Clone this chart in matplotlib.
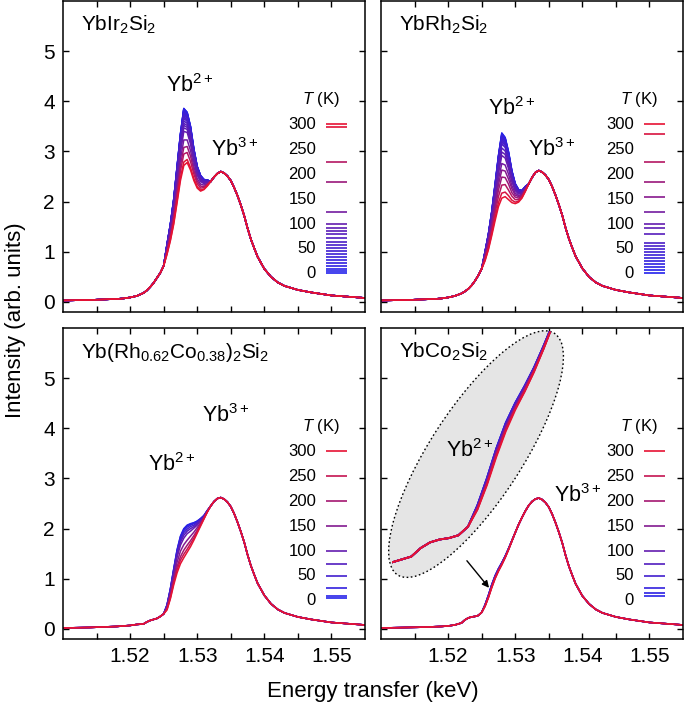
import numpy as np
import matplotlib
matplotlib.use("Agg")
import matplotlib.pyplot as plt
from matplotlib.patches import Ellipse
import matplotlib.transforms as mtransforms

plt.rcParams['font.family'] = ['Liberation Sans', 'DejaVu Sans']
plt.rcParams['mathtext.fontset'] = 'custom'
plt.rcParams['mathtext.rm'] = 'Liberation Sans'
plt.rcParams['mathtext.it'] = 'Liberation Sans:italic'
plt.rcParams['mathtext.bf'] = 'Liberation Sans:bold'

# ---------------- data ----------------
energy = [1.510, 1.512, 1.514, 1.516, 1.518, 1.519, 1.520, 1.521,
          1.522, 1.5225, 1.523, 1.5235, 1.524, 1.5245, 1.525, 1.5255, 1.526, 1.5265,
          1.527, 1.5275, 1.528, 1.5285, 1.529, 1.5295, 1.530, 1.5305, 1.531, 1.5315,
          1.532, 1.5325, 1.533, 1.5335,
          1.534, 1.5345, 1.535, 1.5355, 1.536, 1.5365, 1.537, 1.5375, 1.538, 1.5385,
          1.539, 1.540, 1.541, 1.542, 1.543, 1.545, 1.547, 1.550, 1.553, 1.555]

# energies where the spectra change with temperature (Yb2+ region)
window_energy = [1.5255, 1.526, 1.5265, 1.527, 1.5275, 1.528, 1.5285,
                 1.529, 1.5295, 1.530, 1.5305, 1.531, 1.5315]

# ---- YbIr2Si2 ----
ir_base = [0.03, 0.035, 0.04, 0.05, 0.06, 0.07, 0.09, 0.12,
           0.18, 0.23, 0.30, 0.38, 0.48, 0.58, 0.72, 0.95, 1.22, 1.55, 1.98, 2.42,
           2.72, 2.78, 2.63, 2.42, 2.27, 2.21, 2.24, 2.31, 2.40, 2.49, 2.56, 2.60,
           2.57, 2.51, 2.42, 2.28, 2.12, 1.93, 1.72, 1.47, 1.25, 1.07,
           0.90, 0.66, 0.50, 0.39, 0.32, 0.24, 0.19, 0.13, 0.10, 0.08]
ir_temps = [300, 295, 225, 185, 125, 100, 92, 86, 80, 72, 64, 58, 52, 46, 40,
            34, 28, 22, 16, 10, 6, 2]
ir_window = [
    [0.95, 1.22, 1.55, 1.98, 2.42, 2.72, 2.78, 2.63, 2.42, 2.27, 2.21, 2.24, 2.31],
    [0.96, 1.24, 1.58, 2.02, 2.48, 2.79, 2.84, 2.68, 2.46, 2.30, 2.23, 2.25, 2.32],
    [0.99, 1.29, 1.65, 2.12, 2.61, 2.95, 2.98, 2.80, 2.55, 2.36, 2.27, 2.28, 2.33],
    [1.01, 1.33, 1.71, 2.21, 2.72, 3.08, 3.10, 2.91, 2.62, 2.41, 2.31, 2.30, 2.35],
    [1.04, 1.37, 1.78, 2.30, 2.84, 3.23, 3.23, 3.02, 2.70, 2.46, 2.35, 2.33, 2.36],
    [1.07, 1.42, 1.85, 2.41, 2.98, 3.40, 3.38, 3.15, 2.80, 2.53, 2.40, 2.36, 2.38],
    [1.08, 1.44, 1.88, 2.46, 3.03, 3.47, 3.44, 3.20, 2.84, 2.55, 2.42, 2.37, 2.39],
    [1.09, 1.45, 1.90, 2.48, 3.07, 3.52, 3.48, 3.24, 2.86, 2.57, 2.43, 2.38, 2.39],
    [1.10, 1.46, 1.92, 2.51, 3.11, 3.56, 3.52, 3.27, 2.89, 2.59, 2.44, 2.39, 2.40],
    [1.11, 1.48, 1.94, 2.54, 3.15, 3.61, 3.56, 3.31, 2.91, 2.61, 2.45, 2.40, 2.40],
    [1.11, 1.49, 1.96, 2.57, 3.18, 3.66, 3.60, 3.34, 2.94, 2.62, 2.46, 2.40, 2.41],
    [1.12, 1.50, 1.98, 2.59, 3.21, 3.69, 3.63, 3.37, 2.96, 2.64, 2.47, 2.41, 2.41],
    [1.13, 1.51, 1.99, 2.61, 3.24, 3.72, 3.66, 3.40, 2.97, 2.65, 2.48, 2.42, 2.42],
    [1.13, 1.52, 2.00, 2.63, 3.26, 3.75, 3.68, 3.41, 2.99, 2.66, 2.49, 2.42, 2.42],
    [1.13, 1.52, 2.01, 2.64, 3.28, 3.77, 3.70, 3.43, 3.00, 2.67, 2.50, 2.42, 2.42],
    [1.14, 1.53, 2.02, 2.66, 3.29, 3.79, 3.72, 3.45, 3.01, 2.67, 2.50, 2.43, 2.42],
    [1.14, 1.54, 2.03, 2.67, 3.31, 3.81, 3.74, 3.46, 3.02, 2.68, 2.51, 2.43, 2.43],
    [1.14, 1.54, 2.04, 2.68, 3.32, 3.83, 3.75, 3.47, 3.03, 2.69, 2.51, 2.43, 2.43],
    [1.15, 1.54, 2.04, 2.69, 3.33, 3.84, 3.76, 3.48, 3.04, 2.69, 2.51, 2.44, 2.43],
    [1.15, 1.55, 2.05, 2.69, 3.34, 3.85, 3.77, 3.49, 3.04, 2.70, 2.52, 2.44, 2.43],
    [1.15, 1.55, 2.05, 2.70, 3.35, 3.85, 3.78, 3.50, 3.05, 2.70, 2.52, 2.44, 2.43],
    [1.15, 1.55, 2.05, 2.70, 3.35, 3.86, 3.78, 3.50, 3.05, 2.70, 2.52, 2.44, 2.43],
]

# ---- YbRh2Si2 ----
rh_base = [0.03, 0.035, 0.04, 0.05, 0.06, 0.07, 0.09, 0.12,
           0.17, 0.21, 0.26, 0.33, 0.42, 0.53, 0.66, 0.82, 1.04, 1.32, 1.62, 1.90,
           2.07, 2.10, 2.04, 1.98, 1.96, 1.99, 2.07, 2.20, 2.35, 2.48, 2.58, 2.62,
           2.59, 2.53, 2.44, 2.30, 2.13, 1.94, 1.73, 1.48, 1.26, 1.08,
           0.91, 0.67, 0.50, 0.39, 0.32, 0.24, 0.19, 0.13, 0.10, 0.08]
rh_temps = [300, 280, 225, 185, 155, 125, 100, 92, 80, 62, 56, 50, 44, 38, 32,
            26, 20, 14, 8, 2]
rh_window = [
    [0.82, 1.04, 1.32, 1.62, 1.90, 2.07, 2.10, 2.04, 1.98, 1.96, 1.99, 2.07, 2.20],
    [0.83, 1.06, 1.36, 1.68, 1.98, 2.17, 2.19, 2.12, 2.03, 1.99, 2.01, 2.08, 2.21],
    [0.86, 1.10, 1.42, 1.77, 2.10, 2.33, 2.34, 2.23, 2.11, 2.04, 2.04, 2.10, 2.22],
    [0.88, 1.14, 1.47, 1.85, 2.23, 2.49, 2.48, 2.35, 2.18, 2.09, 2.07, 2.12, 2.23],
    [0.90, 1.17, 1.53, 1.93, 2.34, 2.63, 2.61, 2.45, 2.26, 2.13, 2.10, 2.13, 2.24],
    [0.92, 1.20, 1.57, 2.01, 2.44, 2.76, 2.73, 2.55, 2.32, 2.17, 2.12, 2.15, 2.25],
    [0.94, 1.24, 1.63, 2.09, 2.56, 2.92, 2.87, 2.66, 2.40, 2.22, 2.15, 2.17, 2.27],
    [0.95, 1.26, 1.66, 2.14, 2.62, 2.99, 2.94, 2.72, 2.43, 2.24, 2.17, 2.18, 2.27],
    [0.96, 1.28, 1.69, 2.18, 2.69, 3.07, 3.01, 2.78, 2.47, 2.27, 2.18, 2.19, 2.28],
    [0.97, 1.30, 1.72, 2.23, 2.75, 3.15, 3.08, 2.84, 2.51, 2.29, 2.20, 2.20, 2.28],
    [0.98, 1.31, 1.73, 2.25, 2.78, 3.19, 3.12, 2.87, 2.53, 2.30, 2.21, 2.20, 2.29],
    [0.98, 1.32, 1.75, 2.27, 2.81, 3.23, 3.15, 2.89, 2.55, 2.32, 2.21, 2.20, 2.29],
    [0.98, 1.32, 1.76, 2.28, 2.83, 3.25, 3.17, 2.91, 2.56, 2.32, 2.22, 2.21, 2.29],
    [0.99, 1.33, 1.77, 2.30, 2.85, 3.28, 3.20, 2.93, 2.58, 2.33, 2.22, 2.21, 2.29],
    [0.99, 1.34, 1.78, 2.31, 2.87, 3.31, 3.22, 2.95, 2.59, 2.34, 2.23, 2.21, 2.30],
    [0.99, 1.34, 1.78, 2.32, 2.88, 3.32, 3.23, 2.96, 2.59, 2.34, 2.23, 2.21, 2.30],
    [1.00, 1.34, 1.79, 2.33, 2.89, 3.33, 3.25, 2.97, 2.60, 2.35, 2.23, 2.22, 2.30],
    [1.00, 1.34, 1.79, 2.34, 2.90, 3.34, 3.26, 2.98, 2.61, 2.35, 2.24, 2.22, 2.30],
    [1.00, 1.35, 1.80, 2.34, 2.91, 3.36, 3.27, 2.99, 2.61, 2.36, 2.24, 2.22, 2.30],
    [1.00, 1.35, 1.80, 2.35, 2.92, 3.37, 3.28, 3.00, 2.62, 2.36, 2.24, 2.22, 2.30],
]

# ---- Yb(Rh0.62Co0.38)2Si2 ----
rhco_base = [0.02, 0.025, 0.03, 0.04, 0.05, 0.06, 0.07, 0.09,
             0.10, 0.14, 0.17, 0.19, 0.21, 0.25, 0.30, 0.38, 0.60, 0.88, 1.12, 1.30,
             1.42, 1.53, 1.64, 1.77, 1.91, 2.05, 2.19, 2.33, 2.45, 2.54, 2.60, 2.62,
             2.59, 2.53, 2.44, 2.30, 2.13, 1.94, 1.73, 1.48, 1.26, 1.08,
             0.91, 0.67, 0.50, 0.39, 0.32, 0.24, 0.19, 0.13, 0.10, 0.08]
rhco_temps = [300, 250, 200, 150, 100, 75, 50, 25, 10, 5]
rhco_window = [
    [0.38, 0.60, 0.88, 1.12, 1.30, 1.42, 1.53, 1.64, 1.77, 1.91, 2.05, 2.19, 2.33],
    [0.39, 0.62, 0.92, 1.18, 1.37, 1.49, 1.59, 1.70, 1.81, 1.94, 2.07, 2.20, 2.33],
    [0.41, 0.65, 0.96, 1.24, 1.44, 1.57, 1.67, 1.76, 1.86, 1.97, 2.09, 2.21, 2.34],
    [0.43, 0.69, 1.02, 1.33, 1.55, 1.68, 1.77, 1.85, 1.93, 2.02, 2.12, 2.22, 2.34],
    [0.45, 0.74, 1.10, 1.43, 1.67, 1.81, 1.90, 1.95, 2.01, 2.07, 2.15, 2.24, 2.35],
    [0.46, 0.76, 1.13, 1.48, 1.73, 1.87, 1.95, 2.00, 2.04, 2.10, 2.17, 2.24, 2.35],
    [0.47, 0.77, 1.16, 1.52, 1.77, 1.92, 1.99, 2.04, 2.07, 2.12, 2.18, 2.25, 2.36],
    [0.47, 0.79, 1.18, 1.55, 1.81, 1.96, 2.03, 2.07, 2.10, 2.13, 2.19, 2.26, 2.36],
    [0.48, 0.80, 1.19, 1.57, 1.84, 1.99, 2.06, 2.09, 2.11, 2.15, 2.20, 2.26, 2.36],
    [0.48, 0.80, 1.20, 1.58, 1.85, 2.00, 2.07, 2.10, 2.12, 2.15, 2.20, 2.26, 2.36],
]

# ---- YbCo2Si2 ----
co_base = [0.02, 0.025, 0.03, 0.035, 0.045, 0.05, 0.06, 0.08,
           0.12, 0.18, 0.22, 0.24, 0.25, 0.27, 0.33, 0.45, 0.62, 0.82, 1.00, 1.15,
           1.28, 1.42, 1.58, 1.75, 1.92, 2.08, 2.22, 2.35, 2.46, 2.54, 2.59, 2.61,
           2.58, 2.52, 2.43, 2.29, 2.12, 1.93, 1.72, 1.47, 1.25, 1.07,
           0.90, 0.66, 0.50, 0.39, 0.32, 0.24, 0.19, 0.13, 0.10, 0.08]
co_temps = [300, 250, 200, 150, 100, 75, 50, 25, 15, 10]
co_window = [
    [0.45, 0.62, 0.82, 1.00, 1.15, 1.28, 1.42, 1.58, 1.75, 1.92, 2.08, 2.22, 2.35],
    [0.45, 0.63, 0.83, 1.01, 1.16, 1.28, 1.42, 1.58, 1.75, 1.92, 2.08, 2.22, 2.35],
    [0.46, 0.63, 0.84, 1.02, 1.16, 1.29, 1.43, 1.58, 1.75, 1.92, 2.08, 2.22, 2.35],
    [0.46, 0.64, 0.85, 1.03, 1.17, 1.30, 1.43, 1.59, 1.75, 1.92, 2.08, 2.22, 2.35],
    [0.47, 0.65, 0.86, 1.04, 1.18, 1.31, 1.44, 1.59, 1.76, 1.92, 2.08, 2.22, 2.35],
    [0.47, 0.66, 0.87, 1.04, 1.19, 1.31, 1.44, 1.60, 1.76, 1.92, 2.08, 2.22, 2.35],
    [0.48, 0.66, 0.87, 1.05, 1.19, 1.31, 1.45, 1.60, 1.76, 1.92, 2.08, 2.22, 2.35],
    [0.48, 0.67, 0.88, 1.06, 1.20, 1.32, 1.45, 1.60, 1.76, 1.92, 2.08, 2.22, 2.35],
    [0.48, 0.67, 0.88, 1.06, 1.20, 1.32, 1.45, 1.60, 1.76, 1.92, 2.08, 2.22, 2.35],
    [0.48, 0.67, 0.88, 1.06, 1.20, 1.32, 1.45, 1.60, 1.76, 1.92, 2.08, 2.22, 2.35],
]

titles = [r"YbIr$_2$Si$_2$", r"YbRh$_2$Si$_2$",
          r"Yb(Rh$_{0.62}$Co$_{0.38}$)$_2$Si$_2$", r"YbCo$_2$Si$_2$"]
legend_ticks = [0, 50, 100, 150, 200, 250, 300]
x_major = [1.52, 1.53, 1.54, 1.55]
x_minor = [1.515, 1.525, 1.535, 1.545]
y_major = [0, 1, 2, 3, 4, 5]

# ---------------- helpers ----------------
E = np.array(energy)
win_idx = [int(np.argmin(np.abs(E - w))) for w in window_energy]

RED = np.array([0.90, 0.07, 0.20])
BLUE = np.array([0.13, 0.13, 0.93])


def t_color(T):
    f = T / 300.0
    return tuple(BLUE * (1 - f) + RED * f)


def curve(base, row):
    y = np.array(base, dtype=float)
    y[win_idx] = row
    return y


def legend_y(T):
    return 0.56 + T * 0.00993


fig = plt.figure(figsize=(6.85, 7.08), dpi=100)
W, H = 302 / 685, 311 / 708
pos = {
    'ir': [63 / 685, (708 - 312) / 708, W, H],
    'rh': [381 / 685, (708 - 312) / 708, W, H],
    'rhco': [63 / 685, (708 - 639) / 708, W, H],
    'co': [381 / 685, (708 - 639) / 708, W, H],
}
panels = [
    ('ir', ir_base, ir_temps, ir_window, titles[0]),
    ('rh', rh_base, rh_temps, rh_window, titles[1]),
    ('rhco', rhco_base, rhco_temps, rhco_window, titles[2]),
    ('co', co_base, co_temps, co_window, titles[3]),
]

LBL = 15.5
axes = {}
for key, base, temps, rows, title in panels:
    ax = fig.add_axes(pos[key])
    axes[key] = ax
    order = np.argsort(temps)
    for i in order:
        ax.plot(E, curve(base, rows[i]), color=t_color(temps[i]), lw=1.1, zorder=2)
    ax.set_xlim(1.510, 1.555)
    ax.set_ylim(-0.2, 6.0)
    ax.set_xticks(x_major)
    ax.set_xticks(x_minor, minor=True)
    ax.set_yticks(y_major)
    ax.tick_params(which='both', direction='in', length=4, width=1.0,
                   top=True, right=True, labelsize=15, pad=6)
    for s in ax.spines.values():
        s.set_linewidth(1.1)
    if key in ('ir', 'rh'):
        ax.set_xticklabels([])
    else:
        ax.set_xticklabels([f"{v:.2f}" for v in x_major])
    if key in ('rh', 'co'):
        ax.set_yticklabels([])
    ax.text(0.058, 0.904, title, transform=ax.transAxes, fontsize=15,
            va='baseline', ha='left', zorder=10)
    # temperature scale legend
    ax.text(1.5484, 4.03, r"$T$ (K)", fontsize=12, ha='center', va='center')
    for L in legend_ticks:
        ax.text(1.5477, legend_y(L), str(L), fontsize=12, ha='right', va='center')
    for T in temps:
        ax.plot([1.5492, 1.5523], [legend_y(T)] * 2, color=t_color(T), lw=1.2,
                solid_capstyle='butt')

# peak labels
axes['ir'].text(1.5289, 4.32, r"Yb$^{2+}$", fontsize=LBL, ha='center', va='center')
axes['ir'].text(1.5356, 3.03, r"Yb$^{3+}$", fontsize=LBL, ha='center', va='center')
axes['rh'].text(1.5294, 3.86, r"Yb$^{2+}$", fontsize=LBL, ha='center', va='center')
axes['rh'].text(1.5355, 3.03, r"Yb$^{3+}$", fontsize=LBL, ha='center', va='center')
axes['rhco'].text(1.5262, 3.27, r"Yb$^{2+}$", fontsize=LBL, ha='center', va='center')
axes['rhco'].text(1.5342, 4.26, r"Yb$^{3+}$", fontsize=LBL, ha='center', va='center')
axes['co'].text(1.5393, 2.66, r"Yb$^{3+}$", fontsize=LBL, ha='center', va='center')

# ---------------- magnified inset for YbCo2Si2 ----------------
axc = axes['co']
ell_center = (1.52416, 3.486)
tr = fig.dpi_scale_trans + mtransforms.ScaledTranslation(ell_center[0], ell_center[1],
                                                         axc.transData)
ell = Ellipse((0, 0), width=2.88, height=0.92, angle=57, transform=tr,
              facecolor='#e5e5e5', edgecolor='black', lw=1.0,
              linestyle=(0, (1.2, 1.8)), zorder=3, clip_on=False)
axc.add_patch(ell)

axin = axc.inset_axes([1.51170, 1.1036, 0.02533, 5.669], transform=axc.transData)
axin.set_xlim(1.5210, 1.5300)
axin.set_ylim(0.0, 2.0)
axin.axis('off')
axin.patch.set_alpha(0)
for i in np.argsort(co_temps):
    ln, = axin.plot(E, curve(co_base, co_window[i]), color=t_color(co_temps[i]), lw=1.3)
    ln.set_clip_path(ell)
axc.text(1.52326, 3.566, r"Yb$^{2+}$", fontsize=LBL, ha='center', va='center', zorder=6)
axc.annotate('', xy=(1.5261, 0.82), xytext=(1.5228, 1.36),
             arrowprops=dict(arrowstyle='-|>', color='black', lw=1.0,
                             mutation_scale=10, shrinkA=0, shrinkB=0), zorder=6)

fig.text(16 / 685, 1 - 320 / 708, "Intensity (arb. units)", rotation=90,
         ha='center', va='center', fontsize=16)
fig.text(373 / 685, 1 - 692 / 708, "Energy transfer (keV)", ha='center',
         va='center', fontsize=16)

fig.savefig("out.png", dpi=100)
